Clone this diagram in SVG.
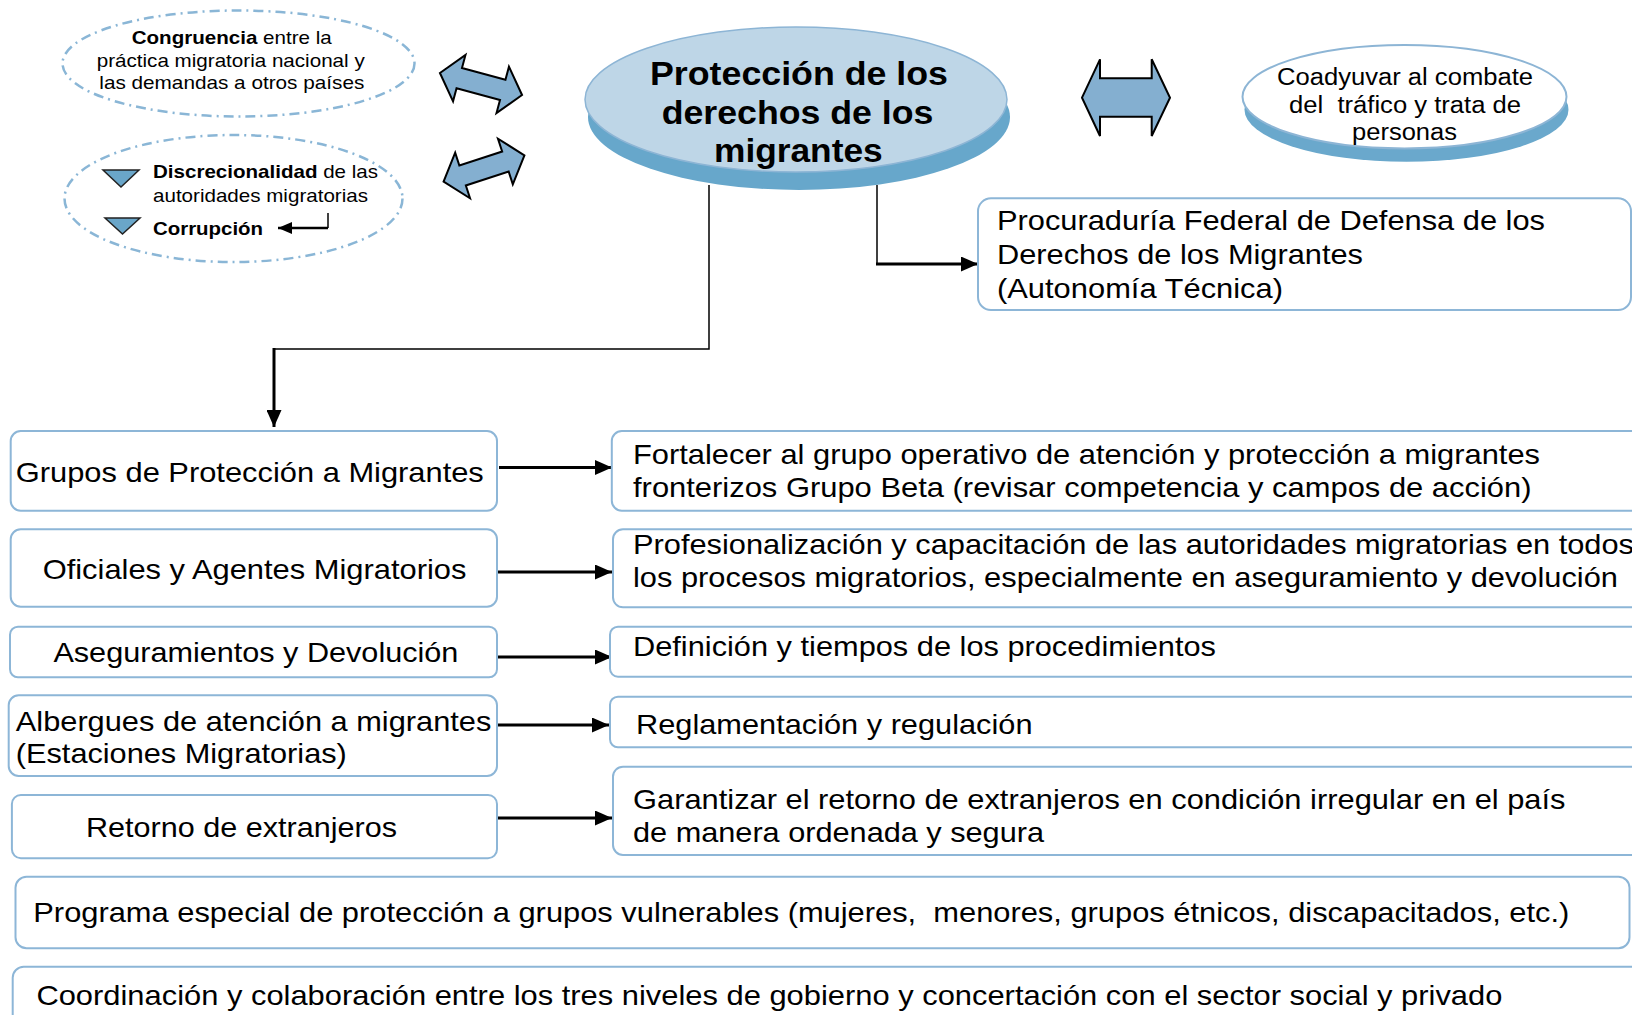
<svg xmlns="http://www.w3.org/2000/svg" width="1632" height="1015" viewBox="0 0 1632 1015">
<style>
  text { font-family: "Liberation Sans", Arial, sans-serif; fill: #000; white-space: pre; }
  .s18 { font-size: 18.5px; }
  .s23 { font-size: 23px; }
  .s28 { font-size: 28px; }
  .big { font-size: 34px; font-weight: bold; }
  .b { font-weight: bold; }
  .box { fill: #fff; stroke: #8DB6D7; stroke-width: 2; }
  .dash { fill: #fff; stroke: #8AB6D6; stroke-width: 2.5; stroke-dasharray: 10 5 2 5; }
  .blk { fill: #84AFD0; stroke: #000; stroke-width: 2; stroke-linejoin: miter; }
  .tri { fill: #6AA6C9; stroke: #222; stroke-width: 1.5; }
  .thin { fill: none; stroke: #000; stroke-width: 1.5; }
  .thick { fill: none; stroke: #000; stroke-width: 3; }
</style>
<defs>
  <marker id="ah" markerUnits="userSpaceOnUse" markerWidth="17" markerHeight="15" refX="17" refY="7.5" orient="auto">
    <path d="M0,0 L17,7.5 L0,15 z" fill="#000"/>
  </marker>
  <marker id="ahs" markerUnits="userSpaceOnUse" markerWidth="14" markerHeight="12" refX="14" refY="6" orient="auto">
    <path d="M0,0 L14,6 L0,12 z" fill="#000"/>
  </marker>
  <polygon id="dbl" points="-42.5,0 -22.5,-24 -22.5,-10.5 22.5,-10.5 22.5,-24 42.5,0 22.5,24 22.5,10.5 -22.5,10.5 -22.5,24"/>
</defs>

<g id="congruencia">
  <ellipse class="dash" cx="238.5" cy="63.5" rx="176" ry="53"/>
  <text class="s18" x="131.7" y="44.3" textLength="200" lengthAdjust="spacingAndGlyphs"><tspan class="b">Congruencia</tspan> entre la</text>
  <text class="s18" x="96.7" y="66.7" textLength="268" lengthAdjust="spacingAndGlyphs">práctica migratoria nacional y</text>
  <text class="s18" x="99.3" y="89.3" textLength="265" lengthAdjust="spacingAndGlyphs">las demandas a otros países</text>
</g>

<g id="discrecionalidad">
  <ellipse class="dash" cx="233.5" cy="198.5" rx="169" ry="63.5"/>
  <polygon class="tri" points="103,170 139,170 121,187"/>
  <polygon class="tri" points="105,218 140,218 122.5,234"/>
  <text class="s18" x="153" y="178.3" textLength="225" lengthAdjust="spacingAndGlyphs"><tspan class="b">Discrecionalidad</tspan> de las</text>
  <text class="s18" x="153" y="201.7" textLength="215" lengthAdjust="spacingAndGlyphs">autoridades migratorias</text>
  <text class="s18 b" x="153" y="235" textLength="110" lengthAdjust="spacingAndGlyphs">Corrupción</text>
</g>

<g id="arrow-top-left">
  <use href="#dbl" class="blk" transform="translate(481,84) rotate(15)"/>
</g>
<g id="arrow-bottom-left">
  <use href="#dbl" class="blk" transform="translate(484,168.5) rotate(-18)"/>
</g>
<g id="arrow-right">
  <polygon class="blk" points="1082,97.7 1100,59.3 1100,78.3 1151.7,78.3 1151.7,59.3 1170,97.7 1151.7,136 1151.7,116.7 1100,116.7 1100,136"/>
</g>

<g id="connectors">
  <path class="thin" d="M328,213 V228"/>
  <path d="M328,228 H278" fill="none" stroke="#000" stroke-width="2.5" marker-end="url(#ahs)"/>
  <path class="thin" d="M709,185 V349 H274"/>
  <path class="thick" d="M274,348 V427" marker-end="url(#ah)"/>
  <path class="thin" d="M877,185 V264"/>
  <path class="thick" d="M876,264 H978" marker-end="url(#ah)"/>
  <path class="thick" d="M499,467.5 H612" marker-end="url(#ah)"/>
  <path class="thick" d="M496,572 H612" marker-end="url(#ah)"/>
  <path class="thick" d="M498,657 H612" marker-end="url(#ah)"/>
  <path class="thick" d="M494,725 H609" marker-end="url(#ah)"/>
  <path class="thick" d="M498,818 H612" marker-end="url(#ah)"/>
</g>

<g id="proteccion">
  <ellipse cx="799" cy="117" rx="211" ry="73" fill="#67A7CB"/>
  <ellipse cx="796" cy="99.5" rx="211" ry="72.5" fill="#BED6E7" stroke="#8DB5D5" stroke-width="1.5"/>
  <text class="big" x="650" y="85" textLength="298" lengthAdjust="spacingAndGlyphs">Protección de los</text>
  <text class="big" x="661.7" y="123.5" textLength="271.7" lengthAdjust="spacingAndGlyphs">derechos de los</text>
  <text class="big" x="714" y="162" textLength="168.7" lengthAdjust="spacingAndGlyphs">migrantes</text>
</g>

<g id="coadyuvar">
  <ellipse cx="1406.5" cy="109.7" rx="162" ry="52" fill="#6AA8CC"/>
  <ellipse cx="1404.5" cy="96.7" rx="162" ry="51.7" fill="#fff" stroke="#8DB5D5" stroke-width="2"/>
  <text class="s23" x="1277" y="85" textLength="256" lengthAdjust="spacingAndGlyphs">Coadyuvar al combate</text>
  <text class="s23" x="1289" y="113" textLength="232" lengthAdjust="spacingAndGlyphs">del  tráfico y trata de</text>
  <text class="s23" x="1352" y="140" textLength="105" lengthAdjust="spacingAndGlyphs">personas</text>
</g>

<g id="procuraduria">
  <rect class="box" x="978" y="198.3" width="653" height="111.7" rx="13"/>
  <text class="s28" x="997" y="230" textLength="548" lengthAdjust="spacingAndGlyphs">Procuraduría Federal de Defensa de los</text>
  <text class="s28" x="997" y="264" textLength="366" lengthAdjust="spacingAndGlyphs">Derechos de los Migrantes</text>
  <text class="s28" x="997" y="298" textLength="286" lengthAdjust="spacingAndGlyphs">(Autonomía Técnica)</text>
</g>

<g id="grupos">
  <rect class="box" x="10.7" y="431" width="486.3" height="79.7" rx="10"/>
  <text class="s28" x="15.8" y="481.7" textLength="468" lengthAdjust="spacingAndGlyphs">Grupos de Protección a Migrantes</text>
</g>
<g id="oficiales">
  <rect class="box" x="10.7" y="529.3" width="486.3" height="77.4" rx="10"/>
  <text class="s28" x="42.7" y="579.3" textLength="423.7" lengthAdjust="spacingAndGlyphs">Oficiales y Agentes Migratorios</text>
</g>
<g id="aseguramientos">
  <rect class="box" x="10" y="626.7" width="487" height="50.6" rx="8"/>
  <text class="s28" x="53.4" y="661.7" textLength="405" lengthAdjust="spacingAndGlyphs">Aseguramientos y Devolución</text>
</g>
<g id="albergues">
  <rect class="box" x="8.7" y="695.3" width="488.3" height="80.7" rx="10"/>
  <text class="s28" x="15.8" y="730.7" textLength="475.5" lengthAdjust="spacingAndGlyphs">Albergues de atención a migrantes</text>
  <text class="s28" x="15.8" y="763.3" textLength="331" lengthAdjust="spacingAndGlyphs">(Estaciones Migratorias)</text>
</g>
<g id="retorno">
  <rect class="box" x="11.9" y="795" width="485.1" height="63.3" rx="9"/>
  <text class="s28" x="86" y="836.7" textLength="311" lengthAdjust="spacingAndGlyphs">Retorno de extranjeros</text>
</g>

<g id="fortalecer">
  <rect class="box" x="611.8" y="431" width="1040" height="79.7" rx="10"/>
  <text class="s28" x="633" y="463.5" textLength="907" lengthAdjust="spacingAndGlyphs">Fortalecer al grupo operativo de atención y protección a migrantes</text>
  <text class="s28" x="633" y="496.5" textLength="898.5" lengthAdjust="spacingAndGlyphs">fronterizos Grupo Beta (revisar competencia y campos de acción)</text>
</g>
<g id="profesionalizacion">
  <rect class="box" x="613" y="529.3" width="1040" height="78" rx="10"/>
  <text class="s28" x="633" y="554" textLength="1001" lengthAdjust="spacingAndGlyphs">Profesionalización y capacitación de las autoridades migratorias en todos</text>
  <text class="s28" x="633" y="587" textLength="985" lengthAdjust="spacingAndGlyphs">los procesos migratorios, especialmente en aseguramiento y devolución</text>
</g>
<g id="definicion">
  <rect class="box" x="610" y="626.7" width="1040" height="50" rx="8"/>
  <text class="s28" x="633" y="656" textLength="583" lengthAdjust="spacingAndGlyphs">Definición y tiempos de los procedimientos</text>
</g>
<g id="reglamentacion">
  <rect class="box" x="610" y="696.7" width="1040" height="50.6" rx="8"/>
  <text class="s28" x="636" y="734" textLength="396.5" lengthAdjust="spacingAndGlyphs">Reglamentación y regulación</text>
</g>
<g id="garantizar">
  <rect class="box" x="613" y="766.7" width="1040" height="88.3" rx="10"/>
  <text class="s28" x="633" y="809" textLength="932.5" lengthAdjust="spacingAndGlyphs">Garantizar el retorno de extranjeros en condición irregular en el país</text>
  <text class="s28" x="633" y="842" textLength="411" lengthAdjust="spacingAndGlyphs">de manera ordenada y segura</text>
</g>

<g id="programa">
  <rect class="box" x="15.5" y="876.7" width="1614" height="71.6" rx="11"/>
  <text class="s28" x="33.3" y="922" textLength="1536" lengthAdjust="spacingAndGlyphs">Programa especial de protección a grupos vulnerables (mujeres,  menores, grupos étnicos, discapacitados, etc.)</text>
</g>
<g id="coordinacion">
  <rect class="box" x="12.7" y="966.7" width="1660" height="80" rx="11"/>
  <text class="s28" x="36.4" y="1005" textLength="1466" lengthAdjust="spacingAndGlyphs">Coordinación y colaboración entre los tres niveles de gobierno y concertación con el sector social y privado</text>
</g>
</svg>
